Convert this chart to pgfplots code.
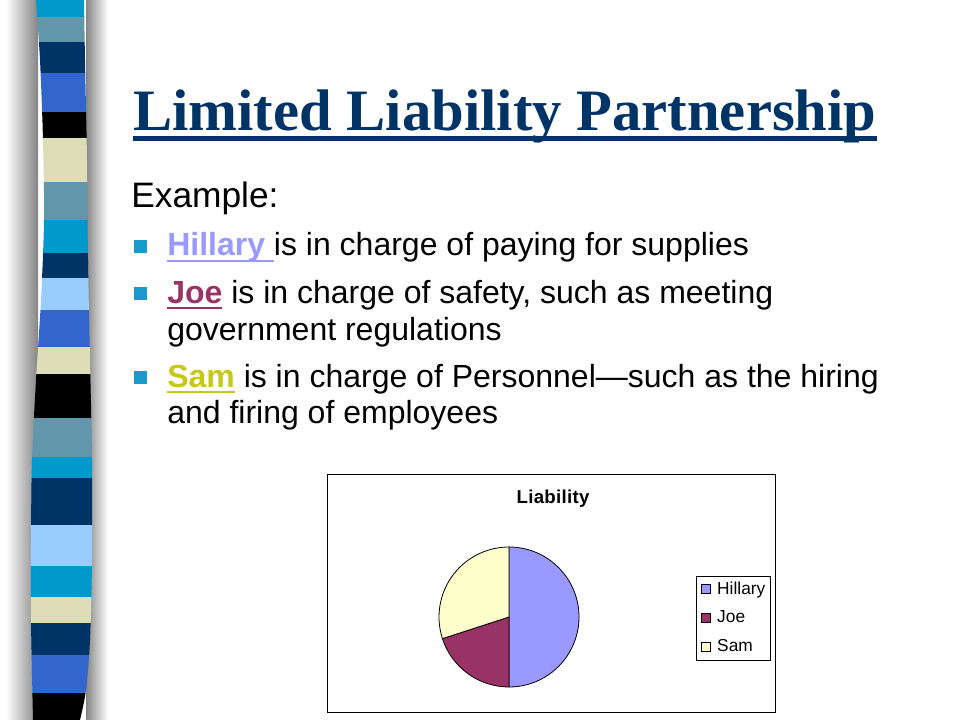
\documentclass[border=0pt]{standalone}
\usepackage{fontspec}
\setmainfont{Liberation Sans}
\newfontfamily\titlefont{Liberation Serif}
\usepackage{pgfplots}
\usepackage{pgfplotstable}
\pgfplotsset{compat=1.18}

\definecolor{titleblue}{HTML}{003366}
\definecolor{bullet}{HTML}{1A9ACC}
\definecolor{hill}{HTML}{9999FF}
\definecolor{joe}{HTML}{993366}
\definecolor{sam}{HTML}{FFFFCC}
\definecolor{samtext}{HTML}{C8C818}
% stripe colours
\definecolor{sA}{HTML}{0099CC}
\definecolor{sB}{HTML}{6296AA}
\definecolor{sC}{HTML}{003366}
\definecolor{sD}{HTML}{3366CC}
\definecolor{sE}{HTML}{DDDDB8}
\definecolor{sF}{HTML}{99CCFF}

\newlength\ulw
\newcommand\ul[1]{\settowidth\ulw{#1}\rlap{\rule[-4.6pt]{\ulw}{1.6pt}}#1}

\pgfplotsset{sqlegend/.style={legend image code/.code={%
  \draw[##1, draw=black, line width=0.5pt] (0pt,-3.3pt) rectangle (6.6pt,3.3pt);}}}

\pgfplotstableread{
name value
Hillary 50
Joe 20
Sam 30
}\piedata

\begin{document}
\begin{tikzpicture}
\pgfplotstablegetelem{0}{value}\of\piedata \let\vA\pgfplotsretval
\pgfplotstablegetelem{1}{value}\of\piedata \let\vB\pgfplotsretval
\pgfplotstablegetelem{2}{value}\of\piedata \let\vC\pgfplotsretval
\pgfmathsetmacro\aA{90}
\pgfmathsetmacro\aB{\aA-3.6*\vA}
\pgfmathsetmacro\aC{\aB-3.6*\vB}
\pgfmathsetmacro\aD{\aC-3.6*\vC}

\begin{scope}[x=0.75pt,y=-0.75pt]
  \useasboundingbox (0,0) rectangle (960,720);
  \fill[white] (0,0) rectangle (960,720);
  % shadow round the stripe
  \shade[left color=white, right color=black!48] (6,0) rectangle (38,720);
  \shade[left color=black!48, right color=white] (86,0) rectangle (108,720);
  \begin{scope}
    \clip plot[smooth] coordinates {(36,0) (40,60) (43,140) (44,220) (41,300) (36,380) (32,460) (31,540) (31,620) (33,720)}
      -- plot[smooth] coordinates {(80,720) (86,690) (90,640) (92,560) (92,460) (90,360) (88,260) (87,160) (85,60) (84,0)} -- cycle;
    \foreach \ya/\yb/\c in {0/17/sA, 17/42/sB, 42/73/sC, 73/112/sD, 112/138/black,
        138/182/sE, 182/220/sB, 220/253/sA, 253/278/sC, 278/310/sF, 310/347/sD,
        347/374/sE, 374/418/black, 418/457/sB, 457/478/sA, 478/525/sC, 525/566/sF,
        566/597/sA, 597/623/sE, 623/655/sC, 655/693/sD, 693/720/black}
      \fill[\c] (0,\ya-0.3) rectangle (120,\yb+0.3);
  \end{scope}

  % title
  \node[anchor=base west, inner sep=0pt, text=titleblue] (T) at (133,131)
    {\titlefont\bfseries\fontsize{44}{50}\selectfont Limited Liability Partnership};
  \fill[titleblue] (T.base west) ++(0,5) rectangle ([yshift=-7.5pt]T.base east);

  % body text
  \node[anchor=base west, inner sep=0pt] at (131,208)
    {\fontsize{26.5}{30}\selectfont Example:};
  \foreach \b in {256,303,387}
    \fill[bullet] (134,\b-16) rectangle (147,\b-3);
  \node[anchor=base west, inner sep=0pt] at (167,256)
    {\fontsize{24}{28}\selectfont{\color{hill}\bfseries\ul{Hillary\ }}is in charge of paying for supplies};
  \node[anchor=base west, inner sep=0pt] at (167,303)
    {\fontsize{24}{28}\selectfont{\color{joe}\bfseries\ul{Joe}} is in charge of safety, such as meeting};
  \node[anchor=base west, inner sep=0pt] at (167,340)
    {\fontsize{24}{28}\selectfont government regulations};
  \node[anchor=base west, inner sep=0pt] at (167,387)
    {\fontsize{24}{28}\selectfont{\color{samtext}\bfseries\ul{Sam}} is in charge of Personnel—such as the hiring};
  \node[anchor=base west, inner sep=0pt] at (167,423)
    {\fontsize{24}{28}\selectfont and firing of employees};
\end{scope}

\begin{axis}[
  at={(245.25pt,-534pt)}, anchor=south west,
  x=0.75pt, y=0.75pt,
  xmin=-182, xmax=266, ymin=-95, ymax=143,
  axis lines=box, ticks=none,
  axis line style={black, line width=0.7pt},
  clip=false,
  legend style={at={(axis cs:187,41.5)}, anchor=north west,
    draw=black, line width=0.6pt, fill=white,
    inner xsep=3.5pt, inner ysep=4.3pt, row sep=10.4pt, column sep=5pt,
    font=\fontsize{13}{15}\selectfont,
    nodes={inner sep=0pt, text height=9.3pt, text depth=2pt}},
  legend cell align=left,
]
  \addlegendimage{sqlegend, fill=hill}
  \addlegendimage{sqlegend, fill=joe}
  \addlegendimage{sqlegend, fill=sam}
  \legend{Hillary,Joe,Sam}

  \filldraw[fill=hill, draw=black, line width=0.6pt] (axis cs:0,0) -- ++(\aA:52.5pt)
    arc[start angle=\aA, end angle=\aB, radius=52.5pt] -- cycle;
  \filldraw[fill=joe, draw=black, line width=0.6pt] (axis cs:0,0) -- ++(\aB:52.5pt)
    arc[start angle=\aB, end angle=\aC, radius=52.5pt] -- cycle;
  \filldraw[fill=sam, draw=black, line width=0.6pt] (axis cs:0,0) -- ++(\aC:52.5pt)
    arc[start angle=\aC, end angle=\aD, radius=52.5pt] -- cycle;

  \node[anchor=base, inner sep=0pt] at (axis cs:44,114)
    {\fontsize{14}{16}\selectfont\bfseries\addfontfeature{LetterSpace=1.5}Liability};
\end{axis}
\end{tikzpicture}
\end{document}
